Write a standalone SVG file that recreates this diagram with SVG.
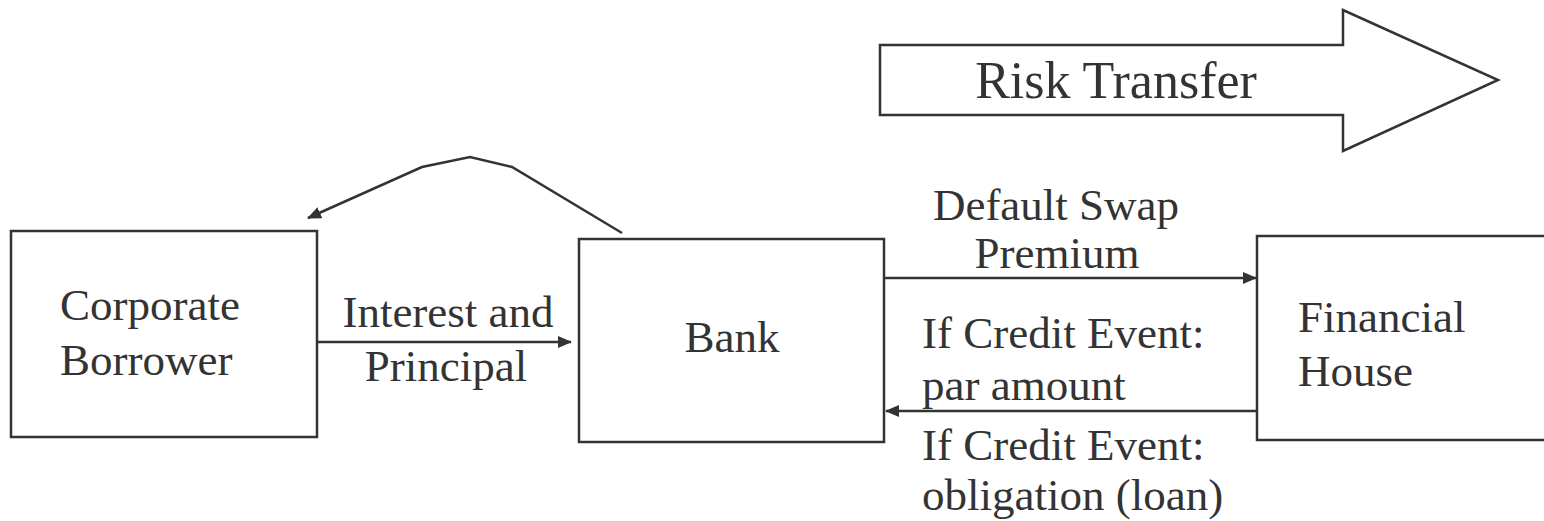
<svg xmlns="http://www.w3.org/2000/svg" width="1544" height="521" viewBox="0 0 1544 521">
<style>
.box{fill:#fff;stroke:#333;stroke-width:2.5}
.ln{fill:none;stroke:#333;stroke-width:2.5}
.t{font-family:"Liberation Serif","Times New Roman",serif;font-size:45px;fill:#333}
.big{font-size:52px}
.c{text-anchor:middle}
</style>
<defs>
<marker id="ah" markerWidth="8" markerHeight="8" refX="7" refY="4" orient="auto" markerUnits="userSpaceOnUse" viewBox="0 0 8 8">
<path d="M0,0 L8,4 L0,8 Z" fill="#333"/>
</marker>
<marker id="ah2" markerWidth="14" markerHeight="12" refX="13" refY="6" orient="auto" markerUnits="userSpaceOnUse" viewBox="0 0 14 12">
<path d="M0,0 L14,6 L0,12 Z" fill="#333"/>
</marker>
</defs>
<rect width="1544" height="521" fill="#fff"/>
<g id="risk-transfer">
<path class="box" d="M880,45 L1343,45 L1343,10 L1498,80 L1343,151 L1343,115 L880,115 Z"/>
<text class="t big" x="1116" y="98" text-anchor="middle">Risk Transfer</text>
</g>
<g id="corporate-borrower">
<rect class="box" x="11" y="231" width="306" height="206"/>
<text class="t" x="60" y="320">Corporate</text>
<text class="t" x="60" y="375">Borrower</text>
</g>
<g id="bank">
<rect class="box" x="579" y="239" width="305" height="203"/>
<text class="t c" x="732" y="352">Bank</text>
</g>
<g id="financial-house">
<rect class="box" x="1257" y="236" width="300" height="204"/>
<text class="t" x="1298" y="332">Financial</text>
<text class="t" x="1298" y="386">House</text>
</g>
<g id="connectors">
<path class="ln" d="M622,233 L512,167 L470,157 L422,167 L308,218" marker-end="url(#ah2)"/>
<line class="ln" x1="317" y1="342" x2="571" y2="342" marker-end="url(#ah2)"/>
<line class="ln" x1="884" y1="278" x2="1256" y2="278" marker-end="url(#ah2)"/>
<line class="ln" x1="1257" y1="411" x2="886" y2="411" marker-end="url(#ah2)"/>
</g>
<g id="labels">
<text class="t c" x="448" y="327">Interest and</text>
<text class="t c" x="446" y="381">Principal</text>
<text class="t c" x="1056" y="220">Default Swap</text>
<text class="t c" x="1057" y="268">Premium</text>
<text class="t" x="922" y="348">If Credit Event:</text>
<text class="t" x="922" y="400">par amount</text>
<text class="t" x="922" y="460">If Credit Event:</text>
<text class="t" x="922" y="510">obligation (loan)</text>
</g>
</svg>
